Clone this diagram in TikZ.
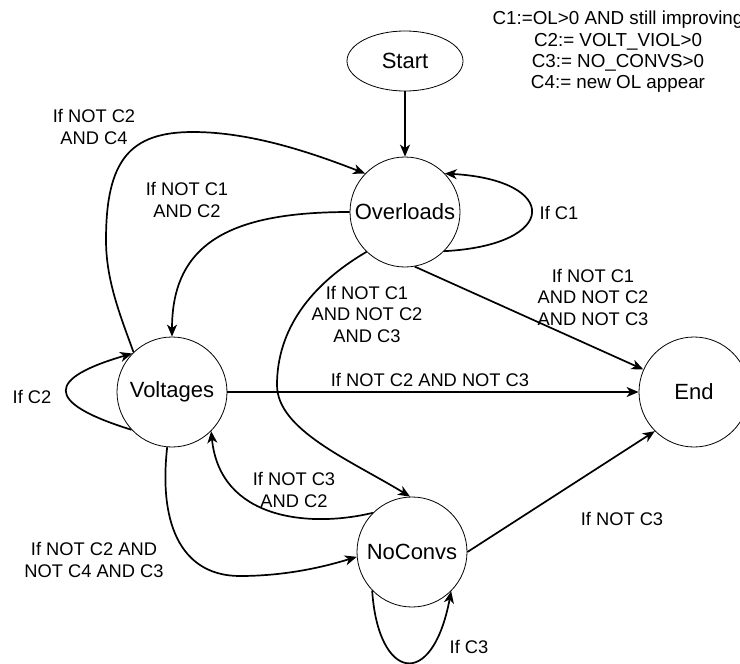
\documentclass[tikz,border=0pt]{standalone}
\usepackage{fontspec}
\setmainfont{Liberation Sans}
\usetikzlibrary{arrows.meta,shapes.geometric}
\begin{document}
\begin{tikzpicture}[x=1pt,y=-1pt,
  state/.style={circle,draw,line width=0.8pt,minimum size=110pt,inner sep=0pt,
    font=\fontsize{22}{26}\selectfont},
  startstate/.style={ellipse,draw,line width=0.8pt,minimum width=116pt,minimum height=60pt,
    inner sep=0pt,font=\fontsize{22}{26}\selectfont},
  trans/.style={line width=1.7pt,-{Stealth[length=12pt,width=10pt,inset=3.5pt]}},
  lbl/.style={align=center,inner sep=0pt,font=\fontsize{18.3}{21.5}\selectfont},
]
\useasboundingbox (0,0) rectangle (740,664);
\clip (0,0) rectangle (740,664);

% states
\node[startstate] (S) at (405,61) {Start};
\node[state] (O) at (405,212) {Overloads};
\node[state] (V) at (172,392) {Voltages};
\node[state] (E) at (694,392) {End};
\node[state] (N) at (412,552) {NoConvs};

% condition definitions
\node[lbl,font=\fontsize{18.8}{21.3}\selectfont] (defs) at (618,52)
  {C1:=OL>0 AND still improving\\C2:= VOLT\_VIOL>0\\C3:= NO\_CONVS>0\\C4:= new OL appear};

% transitions
\draw[trans] (S) -- (O);
\draw[trans] (O.-45) .. controls (560,245) and (560,180) .. (O.44);
\draw[trans] (O.west) .. controls (232,212) and (172,242) .. (V.north);
\draw[trans] (V.134) .. controls (120,315) and (106,280) .. (106,240)
  .. controls (106,160) and (130,132) .. (193,132)
  .. controls (250,132) and (310,152) .. (O.136);
\draw[trans] (V.-137) .. controls (42,402) and (48,378) .. (V.136);
\draw[trans] (V.east) -- (E.west);
\draw[trans] (O.-80) -- (E.156);
\draw[trans] (O.-134) .. controls (310,285) and (277,330) .. (277,385)
  .. controls (277,430) and (350,460) .. (N.92);
\draw[trans] (N.135) .. controls (310,528) and (220,520) .. (V.-45);
\draw[trans] (V.-95) .. controls (158,530) and (185,576) .. (240,576)
  .. controls (290,576) and (330,565) .. (N.185);
\draw[trans] (N.-136) .. controls (378,680) and (432,692) .. (N.-45);
\draw[trans] (N.east) -- (E.-135);

% transition conditions
\node[lbl] (l1) at (94,127) {If NOT C2\\AND C4};
\node[lbl] (l2) at (187,200) {If NOT C1\\AND C2};
\node[lbl] (l3) at (559,213) {If C1};
\node[lbl] (l4) at (32,397) {If C2};
\node[lbl] (l5) at (430,380) {If NOT C2 AND NOT C3};
\node[lbl] (l6) at (593,297) {If NOT C1\\AND NOT C2\\AND NOT C3};
\node[lbl] (l7) at (367,314) {If NOT C1\\AND NOT C2\\AND C3};
\node[lbl] (l8) at (294,490) {If NOT C3\\AND C2};
\node[lbl] (l9) at (94,560) {If NOT C2 AND\\NOT C4 AND C3};
\node[lbl] (l10) at (469,647) {If C3};
\node[lbl] (l11) at (622,519) {If NOT C3};
\end{tikzpicture}
\end{document}
